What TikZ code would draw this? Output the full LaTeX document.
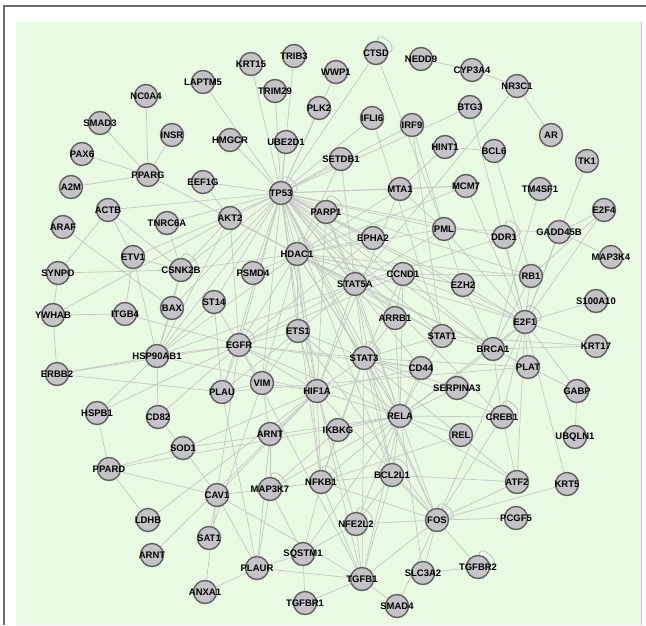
\documentclass[tikz,border=0pt]{standalone}
\usepackage{fontspec}
\setsansfont{Liberation Sans}
\usetikzlibrary{backgrounds}

\definecolor{panelgreen}{RGB}{232,250,226}
\definecolor{framegray}{RGB}{110,110,110}
\definecolor{genefill}{RGB}{196,196,200}
\definecolor{generim}{RGB}{95,95,95}
\definecolor{linkgray}{RGB}{198,198,198}

\tikzset{
  gene/.style={circle, minimum size=23pt, inner sep=0pt, fill=genefill,
    draw=generim, line width=1.4pt, text=black,
    font=\sffamily\bfseries\fontsize{9.5}{10}\selectfont},
  link/.style={draw=linkgray, line width=0.7pt},
  selfloop/.style={draw=linkgray, line width=0.9pt, loop, out=85, in=5,
    min distance=4pt, looseness=2.2},
}

\def\genes{LAPTM5/203/82/LAPTM5, NC0A4/146/96/NC0A4, SMAD3/100/123/SMAD3,
  INSR/172/135/INSR, PAX6/82/154/PAX6, PPARG/148/175/PPARG, A2M/71/187/A2M,
  EEF1G/203/182/EEF1G, HMGCR/230/140/HMGCR, ACTB/108/210/ACTB,
  KRT15/251/64/KRT15, TRIB3/294/56/TRIB3, WWP1/336/72/WWP1, CTSD/376/53/CTSD,
  NEDD9/421/59/NEDD9, TRIM29/275/91/TRIM29, PLK2/319/108/PLK2,
  IFLI6/372/118/IFLI6, IRF9/412/125/IRF9, UBE2D1/286/142/UBE2D1,
  SETDB1/341/159/SETDB1, TP53/281/193/TP53, MTA1/400/189/MTA1,
  PARP1/326/212/PARP1, CYP3A4/472/70/CYP3A4, NR3C1/517/86/NR3C1,
  BTG3/470/107/BTG3, AR/551/135/AR, HINT1/445/147/HINT1, BCL6/494/151/BCL6,
  TK1/587/161/TK1, MCM7/466/186/MCM7, TM4SF1/540/189/TM4SF1, E2F4/604/210/E2F4,
  AKT2/230/218/AKT2, TNRC6A/167/223/TNRC6A, ARAF/63/227/ARAF, ETV1/133/257/ETV1,
  CSNK2B/181/270/CSNK2B, SYNPO/58/273/SYNPO, ST14/214/302/ST14, BAX/172/308/BAX,
  YWHAB/53/315/YWHAB, ITGB4/125/314/ITGB4, HSP90AB1/157/356/HSP90AB1,
  ERBB2/57/374/ERBB2, PLAU/222/392/PLAU, HSPB1/97/413/HSPB1, CD82/158/417/CD82,
  EPHA2/373/238/EPHA2, HDAC1/297/254/HDAC1, PSMD4/253/273/PSMD4,
  STAT5A/355/284/STAT5A, CCND1/403/274/CCND1, ARRB1/395/318/ARRB1,
  ETS1/298/331/ETS1, EGFR/239/345/EGFR, STAT3/364/358/STAT3, CD44/421/368/CD44,
  VIM/262/383/VIM, HIF1A/317/391/HIF1A, RELA/400/416/RELA, PML/444/229/PML,
  DDR1/504/237/DDR1, GADD45B/559/232/GADD45B, MAP3K4/611/257/MAP3K4,
  RB1/531/276/RB1, EZH2/463/285/EZH2, S100A10/596/301/S100A10,
  E2F1/525/322/E2F1, STAT1/442/336/STAT1, KRT17/596/346/KRT17,
  BRCA1/493/349/BRCA1, PLAT/528/367/PLAT, SERPINA3/457/388/SERPINA3,
  GABP/577/391/GABP, CREB1/502/417/CREB1, REL/461/435/REL,
  UBQLN1/575/437/UBQLN1, ATF2/517/482/ATF2, KRT5/567/484/KRT5, FOS/437/520/FOS,
  PCGF5/516/518/PCGF5, TGFBR2/478/567/TGFBR2, SLC3A2/423/573/SLC3A2,
  SOD1/183/448/SOD1, PPARD/109/469/PPARD, CAV1/217/495/CAV1, LDHB/148/520/LDHB,
  SAT1/209/538/SAT1, ARNTb/152/555/ARNT, ANXA1/205/592/ANXA1,
  ARNTa/270/434/ARNT, IKBKG/338/430/IKBKG, MAP3K7/270/489/MAP3K7,
  NFKB1/321/482/NFKB1, BCL2L1/392/475/BCL2L1, NFE2L2/356/524/NFE2L2,
  SQSTM1/303/554/SQSTM1, PLAUR/257/568/PLAUR, TGFB1/362/579/TGFB1,
  TGFBR1/305/603/TGFBR1, SMAD4/397/606/SMAD4}

\begin{document}
\begin{tikzpicture}[x=1pt, y=-1pt]
\useasboundingbox (0,0) rectangle (646,625);

% Genes (grey discs, bold names)
\foreach \n/\x/\y/\lbl in \genes
  \node[gene] (\n) at (\x,\y) {\makebox[0pt]{\lbl}};

\begin{scope}[on background layer]
% Panel and frame
\fill[white] (0,0) rectangle (646,625);
\fill[panelgreen] (16,22) rectangle (641,625);
\draw[linkgray, line width=1pt] (641,22) -- (641,625);
\draw[framegray, line width=1.2pt] (4,625) -- (4,6) -- (646,6);

% TP53 star
\foreach \g in {LAPTM5,KRT15,TRIB3,TRIM29,WWP1,PLK2,CTSD,IFLI6,IRF9,UBE2D1,
  SETDB1,MTA1,HMGCR,EEF1G,ACTB,AKT2,PARP1,HDAC1,PSMD4,STAT5A,CCND1,ETS1,HIF1A,
  STAT3,RELA,E2F1,BRCA1,PML,EPHA2,BAX,CSNK2B,HSP90AB1,EGFR,ST14,MCM7,NFKB1,VIM,
  ARRB1,EZH2,STAT1,CREB1,FOS,BCL2L1,TNRC6A,ETV1,PLAU,CD44,BTG3,DDR1,RB1}
  \draw[link] (TP53) -- (\g);

% Other interactions
\foreach \a/\b in {PPARG/NC0A4, PPARG/SMAD3, PPARG/INSR, PPARG/PAX6, PPARG/A2M,
  PPARG/HDAC1, EEF1G/AKT2, CTSD/PML, NEDD9/CYP3A4, CYP3A4/NR3C1, NR3C1/AR,
  NR3C1/STAT5A, IFLI6/STAT1, IRF9/STAT1, IRF9/PML, HINT1/BCL6, HINT1/MTA1,
  BCL6/RB1, TK1/E2F1, E2F4/E2F1, E2F4/RB1, BTG3/E2F1, MCM7/E2F1, MCM7/MTA1,
  MCM7/HDAC1, TM4SF1/BRCA1, GADD45B/E2F1, GADD45B/MAP3K4, GADD45B/PML,
  GADD45B/E2F4, S100A10/E2F1, KRT17/E2F1, KRT17/BRCA1, KRT17/STAT1, GABP/E2F1,
  GABP/UBQLN1, GABP/BRCA1, KRT5/E2F1, KRT5/FOS, PCGF5/FOS, ATF2/CREB1, ATF2/FOS,
  ATF2/RELA, ATF2/E2F1, ATF2/STAT3, ATF2/BCL2L1, TGFBR2/FOS, TGFBR2/SLC3A2,
  SLC3A2/FOS, SLC3A2/RELA, SMAD4/TGFB1, SMAD4/FOS, TGFB1/TGFBR1, TGFB1/NFE2L2,
  TGFB1/RELA, TGFB1/HIF1A, TGFB1/STAT3, TGFB1/FOS, TGFB1/NFKB1, TGFB1/BCL2L1,
  TGFB1/CAV1, TGFB1/PLAUR, TGFB1/EGFR, TGFBR1/SQSTM1, PLAUR/PLAU, PLAUR/SQSTM1,
  PLAUR/ANXA1, PLAUR/MAP3K7, PLAUR/CAV1, SQSTM1/NFE2L2, SQSTM1/NFKB1,
  SQSTM1/MAP3K7, SQSTM1/RELA, NFE2L2/RELA, NFE2L2/HIF1A, NFE2L2/FOS,
  NFE2L2/BCL2L1, NFKB1/RELA, NFKB1/IKBKG, NFKB1/HIF1A, NFKB1/MAP3K7,
  NFKB1/STAT3, NFKB1/FOS, NFKB1/BCL2L1, NFKB1/HDAC1, MAP3K7/IKBKG, MAP3K7/RELA,
  IKBKG/RELA, IKBKG/STAT3, BCL2L1/RELA, BCL2L1/STAT3, BCL2L1/STAT5A, BCL2L1/FOS,
  RELA/HIF1A, RELA/STAT3, RELA/STAT1, RELA/CD44, RELA/REL, RELA/CREB1, RELA/FOS,
  RELA/SERPINA3, RELA/HDAC1, RELA/STAT5A, RELA/CCND1, RELA/BRCA1, RELA/E2F1,
  RELA/EGFR, RELA/ARRB1, RELA/ETS1, RELA/SOD1, FOS/CREB1, FOS/STAT3, FOS/HIF1A,
  FOS/E2F1, FOS/ETS1, CREB1/E2F1, CREB1/BRCA1, CREB1/STAT3, REL/NFKB1,
  SERPINA3/STAT3, CD44/STAT3, CD44/HIF1A, CD44/EGFR, STAT1/STAT3, STAT1/STAT5A,
  STAT1/BRCA1, STAT1/HDAC1, BRCA1/E2F1, BRCA1/RB1, BRCA1/EZH2, BRCA1/HDAC1,
  BRCA1/CCND1, BRCA1/STAT5A, E2F1/RB1, E2F1/CCND1, E2F1/EZH2, E2F1/HDAC1,
  E2F1/PML, E2F1/DDR1, E2F1/PLAT, PLAT/STAT3, PLAT/PLAU, EZH2/HDAC1, EZH2/CCND1,
  EZH2/PML, RB1/HDAC1, RB1/CCND1, PML/HDAC1, PML/STAT5A, PML/MTA1, DDR1/STAT5A,
  CCND1/STAT5A, CCND1/STAT3, CCND1/HDAC1, CCND1/EGFR, CCND1/ARRB1, EPHA2/EGFR,
  EPHA2/HDAC1, ARRB1/STAT3, ARRB1/HDAC1, MTA1/HDAC1, MTA1/HIF1A, PARP1/HDAC1,
  PARP1/STAT5A, PARP1/RELA, PARP1/HIF1A, SETDB1/HDAC1, SETDB1/STAT5A,
  HDAC1/STAT5A, HDAC1/STAT3, HDAC1/ETS1, HDAC1/HIF1A, HDAC1/EGFR, HDAC1/PSMD4,
  HDAC1/AKT2, HDAC1/CSNK2B, HDAC1/VIM, HDAC1/HSP90AB1, STAT5A/STAT3,
  STAT5A/ETS1, STAT5A/EGFR, STAT5A/HIF1A, STAT5A/HSP90AB1, STAT5A/AKT2,
  ETS1/EGFR, ETS1/HIF1A, ETS1/STAT3, ETS1/VIM, ETS1/PLAU, EGFR/STAT3,
  EGFR/HSP90AB1, EGFR/PLAU, EGFR/VIM, EGFR/CAV1, EGFR/HIF1A, EGFR/AKT2,
  EGFR/ST14, HIF1A/STAT3, HIF1A/VIM, HIF1A/ARNTa, HIF1A/HSP90AB1, HIF1A/CAV1,
  VIM/PLAU, AKT2/HSP90AB1, AKT2/CSNK2B, CSNK2B/TNRC6A, CSNK2B/HSP90AB1,
  CSNK2B/BAX, CSNK2B/ETV1, ST14/HSP90AB1, ST14/PLAU, BAX/HSP90AB1, ITGB4/YWHAB,
  ITGB4/EGFR, ITGB4/ETV1, YWHAB/AKT2, YWHAB/SYNPO, YWHAB/ERBB2, SYNPO/ACTB,
  SYNPO/CSNK2B, ARAF/BAX, ACTB/ETV1, ACTB/CSNK2B, ETV1/HSP90AB1,
  ERBB2/HSP90AB1, ERBB2/EGFR, ERBB2/PLAU, HSPB1/PPARD, HSPB1/HSP90AB1,
  HSPB1/EGFR, CD82/SOD1, CD82/EGFR, CD82/HSP90AB1, SOD1/PPARD, SOD1/CAV1,
  SOD1/HIF1A, PPARD/LDHB, PPARD/CAV1, PPARD/RELA, CAV1/SAT1, CAV1/MAP3K7,
  LDHB/HIF1A, ARNTb/HIF1A, SAT1/VIM, ANXA1/CAV1, ARNTa/VIM, ARNTa/PLAUR,
  ARNTa/MAP3K7}
  \draw[link] (\a) -- (\b);

% Self loops
\foreach \g in {CTSD,TP53,PARP1,CSNK2B,DDR1,E2F1,CREB1,FOS,TGFBR2,MAP3K7,
  NFKB1,BCL2L1,NFE2L2,HDAC1,STAT3,EGFR}
  \path (\g) edge[selfloop] (\g);
\end{scope}

\end{tikzpicture}
\end{document}
